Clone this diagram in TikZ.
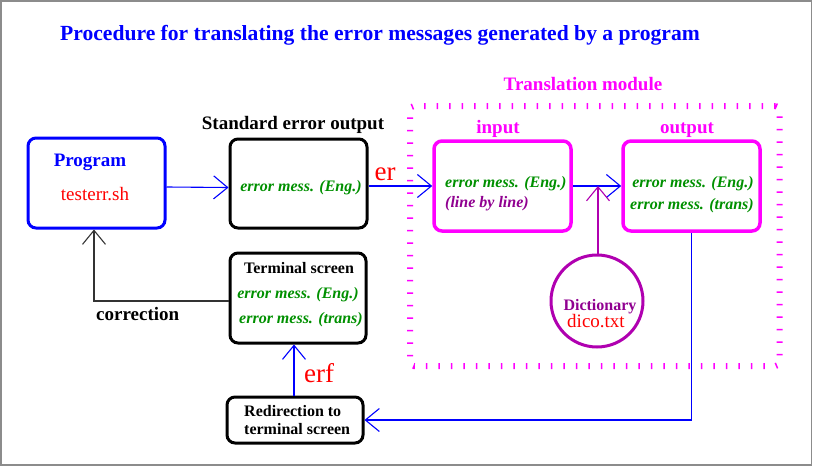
\documentclass[tikz,border=0pt]{standalone}
\usepackage{fontspec}
\setmainfont{Liberation Serif}
\usetikzlibrary{arrows.meta}
\definecolor{xgreen}{RGB}{0,144,0}
\definecolor{xmagA}{RGB}{176,0,176}
\definecolor{xmagB}{RGB}{144,0,144}
\definecolor{xred}{RGB}{255,0,0}
\definecolor{xblue}{RGB}{0,0,255}
\definecolor{xmag}{RGB}{255,0,255}
\newcommand{\fsz}[1]{\fontsize{#1}{#1}\selectfont}
\tikzset{
  box/.style={draw, rectangle, rounded corners=8pt, line width=3pt, inner sep=0pt},
  txt/.style={inner sep=0pt, anchor=base},
  txtw/.style={inner sep=0pt, anchor=base west},
  bigb/.style={font=\fsz{19}\bfseries},
  smb/.style={font=\fsz{16}\bfseries},
  emsg/.style={font=\fsz{16}\bfseries\itshape, text=xgreen},
  conn/.style={line width=1.1pt, -{Straight Barb[length=14pt,width=23pt]}},
}
\begin{document}
\begin{tikzpicture}[x=1pt,y=-1pt]
\useasboundingbox (0,0) rectangle (817,466);
\draw[color={rgb,255:red,140;green,140;blue,140}, line width=1.5pt] (0.75,0.75) rectangle (811.5,465);

% title
\node[txt, font=\fsz{21.6}\bfseries, text=xblue] (title) at (380,40) {Procedure for translating the error messages generated by a program};

% translation module frame
\node[draw=xmag, line width=6pt, dash pattern=on 1.5pt off 11pt, rounded corners=4pt,
      minimum width=369.5pt, minimum height=260pt, inner sep=0pt] (module) at (594.75,236) {};
\node[txt, bigb, text=xmag] (modlab) at (583,90.5) {Translation module};

% boxes
\node[box, draw=xblue, minimum width=137pt, minimum height=90pt] (prog) at (96.5,183) {};
\node[txt, bigb, text=xblue] (progl) at (90,166) {Program};
\node[txt, font=\fsz{19}, text=xred] (progf) at (95,200) {testerr.sh};

\node[box, draw=black, minimum width=137pt, minimum height=89pt] (std) at (298.5,183.5) {};
\node[txt, bigb] (stdl) at (293,129) {Standard error output};
\node[txt, emsg] (stdm) at (301,191) {error mess. (Eng.)};

\node[box, draw=xmag, line width=3.5pt, minimum width=137pt, minimum height=90pt] (inp) at (502.5,186) {};
\node[txt, bigb, text=xmag] (inpl) at (498,133) {input};
\node[txtw, emsg] (inpm) at (445,187) {error mess. (Eng.)};
\node[txtw, font=\fsz{16}\bfseries\itshape, text=xmagB] (inpn) at (445,207) {(line by line)};

\node[box, draw=xmag, line width=3.5pt, minimum width=137pt, minimum height=90pt] (out) at (691.5,186) {};
\node[txt, bigb, text=xmag] (outl) at (687,133) {output};
\node[txt, emsg] (outm) at (693,187) {error mess. (Eng.)};
\node[txt, emsg] (outt) at (692,209) {error mess. (trans)};

\node[draw=xmagA, circle, line width=3pt, minimum size=92pt, inner sep=0pt] (dict) at (597,301) {};
\node[txt, smb, text=xmagB] (dictl) at (600,310) {Dictionary};
\node[txt, font=\fsz{19}, text=xred] (dictf) at (596,327) {dico.txt};

\node[box, draw=black, minimum width=136pt, minimum height=90pt] (term) at (298,298) {};
\node[txt, smb] (terml) at (299,273) {Terminal screen};
\node[txt, emsg] (termm) at (298,298) {error mess. (Eng.)};
\node[txt, emsg] (termt) at (301,323) {error mess. (trans)};

\node[box, draw=black, minimum width=136pt, minimum height=46pt] (redir) at (295,420) {};
\node[txtw, smb] (redl1) at (244,416) {Redirection to};
\node[txtw, smb] (redl2) at (244,434) {terminal screen};

% connectors
\draw[conn, xblue] ([yshift=-4pt]prog.east) -- ([yshift=-4pt]std.west);
\draw[conn, xblue] (inp.west -| std.east) -- (inp.west);
\node[txt, font=\fsz{27}, text=xred] (er) at (385,180) {er};
\draw[conn, xblue] (inp.east) -- (out.west);
\draw[conn, xmagA] ([xshift=1pt]dict.north) -- ([xshift=1pt]dict.north |- inp.east);
\draw[conn, xblue] (out.south) |- (redir.east);
\draw[conn, xblue] ([xshift=-1pt]redir.north) -- ([xshift=-1pt]redir.north |- term.south);
\node[txtw, font=\fsz{27}, text=xred] (erf) at (304,382) {erf};
\draw[conn, black!80] ([yshift=-3pt]term.west) -| ([xshift=-2.5pt]prog.south);
\node[txtw, bigb] (corr) at (96,320) {correction};
\end{tikzpicture}
\end{document}
